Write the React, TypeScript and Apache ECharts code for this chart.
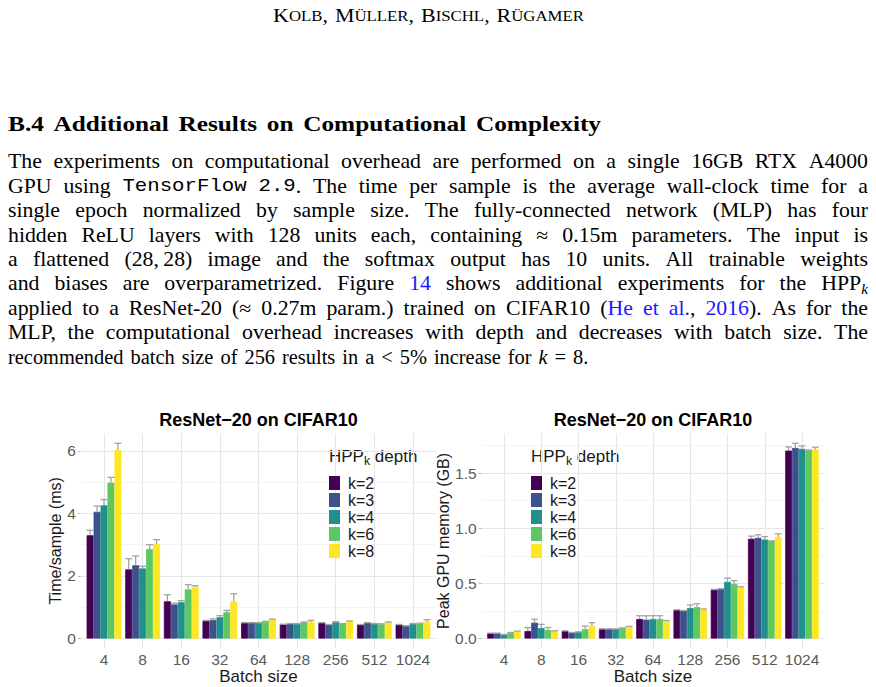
import React, { useEffect, useRef } from "react";
import * as echarts from "echarts";

// ---------------- data ----------------
const batchSizes = ["4", "8", "16", "32", "64", "128", "256", "512", "1024"];
const depthLabels = ["k=2", "k=3", "k=4", "k=6", "k=8"];
const viridis = ["#440154", "#3B528B", "#21908C", "#5DC863", "#FDE725"];

// Time per sample (ms): bar heights
const timeK2 = [3.3, 2.21, 1.19, 0.56, 0.5, 0.45, 0.5, 0.44, 0.44];
const timeK3 = [4.05, 2.34, 1.09, 0.59, 0.5, 0.47, 0.44, 0.5, 0.4];
const timeK4 = [4.26, 2.24, 1.16, 0.68, 0.5, 0.47, 0.52, 0.47, 0.47];
const timeK6 = [4.98, 2.86, 1.57, 0.84, 0.53, 0.52, 0.47, 0.46, 0.48];
const timeK8 = [6.03, 3.02, 1.65, 1.19, 0.61, 0.54, 0.55, 0.52, 0.54];
// Time per sample: upper ends of error bars
const timeHiK2 = [3.46, 2.55, 1.4, 0.58, 0.51, 0.46, 0.51, 0.45, 0.45];
const timeHiK3 = [4.23, 2.64, 1.13, 0.63, 0.51, 0.48, 0.45, 0.51, 0.41];
const timeHiK4 = [4.44, 2.31, 1.21, 0.73, 0.51, 0.48, 0.54, 0.48, 0.48];
const timeHiK6 = [5.15, 3.0, 1.72, 0.9, 0.55, 0.53, 0.48, 0.47, 0.49];
const timeHiK8 = [6.24, 3.16, 1.69, 1.43, 0.62, 0.58, 0.56, 0.53, 0.6];

// Peak GPU memory (GB): bar heights
const memK2 = [0.047, 0.068, 0.068, 0.086, 0.177, 0.258, 0.441, 0.905, 1.705];
const memK3 = [0.047, 0.144, 0.053, 0.086, 0.171, 0.252, 0.45, 0.914, 1.729];
const memK4 = [0.035, 0.095, 0.059, 0.086, 0.177, 0.277, 0.514, 0.898, 1.72];
const memK6 = [0.053, 0.077, 0.086, 0.095, 0.177, 0.286, 0.495, 0.884, 1.707];
const memK8 = [0.065, 0.068, 0.116, 0.107, 0.162, 0.265, 0.468, 0.923, 1.714];
// Peak GPU memory: upper ends of error bars
const memHiK2 = [0.049, 0.1, 0.07, 0.088, 0.207, 0.261, 0.446, 0.929, 1.738];
const memHiK3 = [0.049, 0.175, 0.055, 0.088, 0.206, 0.254, 0.452, 0.941, 1.771];
const memHiK4 = [0.037, 0.129, 0.061, 0.088, 0.207, 0.305, 0.547, 0.925, 1.747];
const memHiK6 = [0.055, 0.1, 0.113, 0.097, 0.207, 0.316, 0.525, 0.886, 1.71];
const memHiK8 = [0.067, 0.07, 0.144, 0.11, 0.164, 0.268, 0.47, 0.95, 1.735];

// tick labels
const timeTicks = [0, 2, 4, 6];
const timeTickLabels = ["0", "2", "4", "6"];
const timeMinor = [1, 3, 5];
const memTicks = [0, 0.5, 1, 1.5];
const memTickLabels = ["0.0", "0.5", "1.0", "1.5"];
const memMinor = [0.25, 0.75, 1.25, 1.75];

const timeMeans = [timeK2, timeK3, timeK4, timeK6, timeK8];
const timeHis = [timeHiK2, timeHiK3, timeHiK4, timeHiK6, timeHiK8];
const memMeans = [memK2, memK3, memK4, memK6, memK8];
const memHis = [memHiK2, memHiK3, memHiK4, memHiK6, memHiK8];

// ---------------- text layout helpers ----------------
type Seg = { t: string; k: string };
type Word = Seg[];

const STY: Record<string, { size: number; family: string; weight?: string; style?: string; color?: string; dy?: number }> = {
  rm: { size: 20, family: "Liberation Serif" },
  tt: { size: 19, family: "Liberation Mono" },
  blue: { size: 20, family: "Liberation Serif", color: "#1a1aff" },
  sub: { size: 14, family: "Liberation Serif", style: "italic", dy: 5 },
  it: { size: 20, family: "Liberation Serif", style: "italic" },
  bf: { size: 21, family: "Liberation Serif", weight: "bold" },
  scB: { size: 19, family: "Liberation Serif" },
  scS: { size: 14.5, family: "Liberation Serif" },
  sans: { size: 16.5, family: "Liberation Sans", color: "#1a1a1a" },
  sansSub: { size: 12, family: "Liberation Sans", color: "#1a1a1a", dy: 5 },
};

let measureCtx: CanvasRenderingContext2D | null = null;
function fontOf(k: string) {
  const s = STY[k];
  return `${s.style || "normal"} ${s.weight || "normal"} ${s.size}px "${s.family}"`;
}
function measure(seg: Seg) {
  if (!measureCtx) measureCtx = document.createElement("canvas").getContext("2d");
  measureCtx!.font = fontOf(seg.k);
  return measureCtx!.measureText(seg.t).width;
}
function P(str: string, k = "rm"): Word[] {
  return str.split(" ").filter((w) => w.length).map((w) => [{ t: w, k }]);
}
function textEl(seg: Seg, x: number, y: number, sx: number) {
  const s = STY[seg.k];
  return {
    type: "text",
    x,
    y: y + (s.dy || 0),
    scaleX: sx,
    silent: true,
    style: {
      text: seg.t,
      fill: s.color || "#000",
      fontSize: s.size,
      fontFamily: s.family,
      fontWeight: s.weight || "normal",
      fontStyle: s.style || "normal",
      align: "left",
      verticalAlign: "middle",
    },
  };
}
// justify: words spread to [x0, x1]; glyphs widened by up to maxScale first
function layoutLine(words: Word[], x0: number, x1: number, y: number, justify: boolean, space: number, maxScale = 1, fixedScale = 1) {
  const widths = words.map((w) => w.reduce((s, seg) => s + measure(seg), 0));
  const total = widths.reduce((a, b) => a + b, 0);
  const n = words.length;
  let sc = fixedScale;
  let gap = space;
  if (justify && n > 1) {
    const natural = total + space * (n - 1);
    sc = Math.max(1, Math.min(maxScale, (x1 - x0) / natural));
    gap = (x1 - x0 - total * sc) / (n - 1);
  }
  const els: any[] = [];
  let x = x0;
  words.forEach((w, i) => {
    let px = x;
    w.forEach((seg) => {
      els.push(textEl(seg, px, y, sc));
      px += measure(seg) * sc;
    });
    x += widths[i] * sc + gap;
  });
  return els;
}

const paragraph: Word[][] = [
  P("The experiments on computational overhead are performed on a single 16GB RTX A4000"),
  [
    ...P("GPU using"),
    [{ t: "TensorFlow", k: "tt" }],
    [{ t: "2.9", k: "tt" }, { t: ".", k: "rm" }],
    ...P("The time per sample is the average wall-clock time for a"),
  ],
  P("single epoch normalized by sample size. The fully-connected network (MLP) has four"),
  P("hidden ReLU layers with 128 units each, containing ≈ 0.15m parameters. The input is"),
  [...P("a flattened"), [{ t: "(28,\u200928)", k: "rm" }], ...P("image and the softmax output has 10 units. All trainable weights")],
  [
    ...P("and biases are overparametrized. Figure"),
    [{ t: "14", k: "blue" }],
    ...P("shows additional experiments for the"),
    [{ t: "HPP", k: "rm" }, { t: "k", k: "sub" }],
  ],
  [
    ...P("applied to a ResNet-20 (≈ 0.27m param.) trained on CIFAR10"),
    [{ t: "(", k: "rm" }, { t: "He", k: "blue" }],
    [{ t: "et", k: "blue" }],
    [{ t: "al.", k: "blue" }, { t: ",", k: "rm" }],
    [{ t: "2016", k: "blue" }, { t: ").", k: "rm" }],
    ...P("As for the"),
  ],
  P("MLP, the computational overhead increases with depth and decreases with batch size. The"),
  [...P("recommended batch size of 256 results in a < 5% increase for"), [{ t: "k", k: "it" }], ...P("= 8.")],
];

const header: Word[] = [
  [{ t: "K", k: "scB" }, { t: "OLB", k: "scS" }, { t: ",", k: "scB" }],
  [{ t: "M", k: "scB" }, { t: "ÜLLER", k: "scS" }, { t: ",", k: "scB" }],
  [{ t: "B", k: "scB" }, { t: "ISCHL", k: "scS" }, { t: ",", k: "scB" }],
  [{ t: "R", k: "scB" }, { t: "ÜGAMER", k: "scS" }],
];
const heading: Word[] = P("B.4 Additional Results on Computational Complexity", "bf");

function buildGraphics() {
  const els: any[] = [];
  els.push(...layoutLine(header, 273, 584, 16, true, 6, 1.5));
  els.push(...layoutLine(heading, 8, 601, 124, true, 8, 1.6));
  paragraph.forEach((words, i) => {
    const last = i === paragraph.length - 1;
    els.push(...layoutLine(words, 8, 868, 161.5 + i * 24.45, !last, 7, 1.09, 1.02));
  });
  const legendTitle: Word[] = [[{ t: "HPP", k: "sans" }, { t: "k", k: "sansSub" }, { t: " depth", k: "sans" }]];
  els.push(...layoutLine(legendTitle, 329, 500, 456.5, false, 0, 1, 1.03));
  els.push(...layoutLine(legendTitle, 531, 700, 456.5, false, 0, 1, 1.03));
  return els;
}

// ---------------- chart option ----------------
function rangeOf(his: number[][]) {
  const mx = Math.max(...his.flat());
  return [-0.05 * mx, mx * 1.05];
}

function buildOption() {
  const PANEL_TOP = 433.5;
  const PANEL_H = 214.8;
  const panels = [
    { left: 80.8, width: 355.4, bars: { left: 84.69, width: 347.62 } },
    { left: 481.65, width: 342.7, bars: { left: 485.375, width: 335.25 } },
  ];
  const charts = [
    { means: timeMeans, his: timeHis, ticks: timeTicks, labels: timeTickLabels, minor: timeMinor, name: "Time/sample (ms)", gap: 9 },
    { means: memMeans, his: memHis, ticks: memTicks, labels: memTickLabels, minor: memMinor, name: "Peak GPU memory (GB)", gap: 19 },
  ];
  const grid: any[] = [];
  const xAxis: any[] = [];
  const yAxis: any[] = [];
  const series: any[] = [];
  const labelStyle = { color: "#5a5a5a", fontSize: 15.5, fontFamily: "Liberation Sans" };
  const majorLine = { color: "#e6e6e6", width: 1.1, type: "solid" };
  const minorLine = { color: "#efefef", width: 0.7, type: "solid" };

  charts.forEach((c, ci) => {
    const p = panels[ci];
    const [ymin, ymax] = rangeOf(c.his);
    const gA = ci * 2;
    const gB = ci * 2 + 1;
    grid.push({ left: p.left, top: PANEL_TOP, width: p.width, height: PANEL_H, containLabel: false, outerBoundsMode: "none" });
    grid.push({ left: p.bars.left, top: PANEL_TOP, width: p.bars.width, height: PANEL_H, containLabel: false, outerBoundsMode: "none" });
    xAxis.push({ gridIndex: gA, type: "value", min: 0, max: 1, show: false });
    xAxis.push({
      gridIndex: gB,
      type: "category",
      data: batchSizes,
      axisLine: { show: false, onZero: false },
      axisTick: { show: false },
      splitLine: { show: false },
      axisLabel: { ...labelStyle, margin: 3, interval: 0 },
      name: "Batch size",
      nameLocation: "middle",
      nameGap: 14,
      nameTextStyle: { fontSize: 17, color: "#1a1a1a", fontFamily: "Liberation Sans" },
    });
    yAxis.push({
      gridIndex: gA,
      type: "value",
      min: ymin,
      max: ymax,
      axisLine: { show: false },
      splitLine: { show: false },
      axisTick: { show: true, length: 3, customValues: c.ticks, lineStyle: { color: "#bdbdbd", width: 1 } },
      axisLabel: {
        ...labelStyle,
        margin: 5,
        customValues: c.ticks,
        formatter: (v: number) => {
          const i = c.ticks.findIndex((t) => Math.abs(t - v) < 1e-6);
          return i >= 0 ? c.labels[i] : "";
        },
      },
      name: c.name,
      nameLocation: "middle",
      nameGap: c.gap,
      nameTextStyle: { fontSize: 16, color: "#1a1a1a", fontFamily: "Liberation Sans" },
    });
    yAxis.push({ gridIndex: gB, type: "value", min: ymin, max: ymax, show: false });

    // horizontal grid lines (panel-wide), kept beneath bars and legend
    series.push({
      type: "line",
      xAxisIndex: gA,
      yAxisIndex: gA,
      data: [],
      z: 0,
      silent: true,
      markLine: {
        z: 0,
        silent: true,
        symbol: ["none", "none"],
        label: { show: false },
        animation: false,
        data: [
          ...c.minor.map((v) => ({ yAxis: v, lineStyle: minorLine })),
          ...c.ticks.map((v) => ({ yAxis: v, lineStyle: majorLine })),
        ],
      },
    });
    // vertical grid lines at categories
    series.push({
      type: "line",
      xAxisIndex: gB,
      yAxisIndex: gB,
      data: [],
      z: 0,
      silent: true,
      markLine: {
        z: 0,
        silent: true,
        symbol: ["none", "none"],
        label: { show: false },
        animation: false,
        data: batchSizes.map((b) => ({ xAxis: b, lineStyle: majorLine })),
      },
    });
    // bars
    c.means.forEach((vals, j) => {
      series.push({
        type: "bar",
        name: depthLabels[j],
        xAxisIndex: gB,
        yAxisIndex: gB,
        data: vals,
        barGap: "0%",
        barCategoryGap: "10%",
        itemStyle: { color: viridis[j], borderColor: viridis[j], borderWidth: 0.8 },
        z: 2,
      });
    });
    // error bars (upper half)
    const errData: number[][] = [];
    c.means.forEach((vals, j) => vals.forEach((v, i) => errData.push([i, j, v, c.his[j][i]])));
    series.push({
      type: "custom",
      xAxisIndex: gB,
      yAxisIndex: gB,
      data: errData,
      encode: { x: 0, y: 3 },
      z: 3,
      silent: true,
      clip: false,
      renderItem: (params: any, api: any) => {
        const i = api.value(0);
        const j = api.value(1);
        const lo = api.coord([i, api.value(2)]);
        const hi = api.coord([i, api.value(3)]);
        const band = api.size([1, 0])[0];
        const bw = (band * 0.9) / 5;
        const x = lo[0] + (j - 2) * bw;
        const half = bw * 0.5;
        const st = { stroke: "#a3a3a3", lineWidth: 1.3 };
        return {
          type: "group",
          children: [
            { type: "line", shape: { x1: x, y1: lo[1], x2: x, y2: hi[1] }, style: st },
            { type: "line", shape: { x1: x - half, y1: hi[1], x2: x + half, y2: hi[1] }, style: st },
          ],
        };
      },
    });
  });

  const legendBase = {
    data: depthLabels,
    orient: "vertical",
    top: 475,
    itemWidth: 11,
    itemHeight: 14,
    itemGap: 1,
    icon: "rect",
    padding: 0,
    selectedMode: false,
    itemStyle: { borderWidth: 0 },
    textStyle: { fontSize: 16, color: "#1a1a1a", fontFamily: "Liberation Sans", lineHeight: 14, padding: [0, 0, 0, 3] },
  };
  const titleStyle = { fontSize: 18, fontWeight: "bold", color: "#000", fontFamily: "Liberation Sans" };

  return {
    animation: false,
    backgroundColor: "#fff",
    title: [
      { text: "ResNet\u221220 on CIFAR10", left: 258.5, top: 411, textAlign: "center", padding: 0, textStyle: titleStyle },
      { text: "ResNet\u221220 on CIFAR10", left: 653, top: 411, textAlign: "center", padding: 0, textStyle: titleStyle },
    ],
    legend: [
      { ...legendBase, left: 329 },
      { ...legendBase, left: 531 },
    ],
    grid,
    xAxis,
    yAxis,
    series,
    graphic: { elements: buildGraphics() },
  };
}

export default function App() {
  const ref = useRef<HTMLDivElement>(null);
  useEffect(() => {
    document.body.style.margin = "0";
    const chart = echarts.init(ref.current!, null, { renderer: "svg" });
    chart.setOption(buildOption() as any);
    return () => chart.dispose();
  }, []);
  return (
    <div
      ref={ref}
      style={{ position: "absolute", left: 0, top: 0, width: 876, height: 687, background: "#fff" }}
    />
  );
}
